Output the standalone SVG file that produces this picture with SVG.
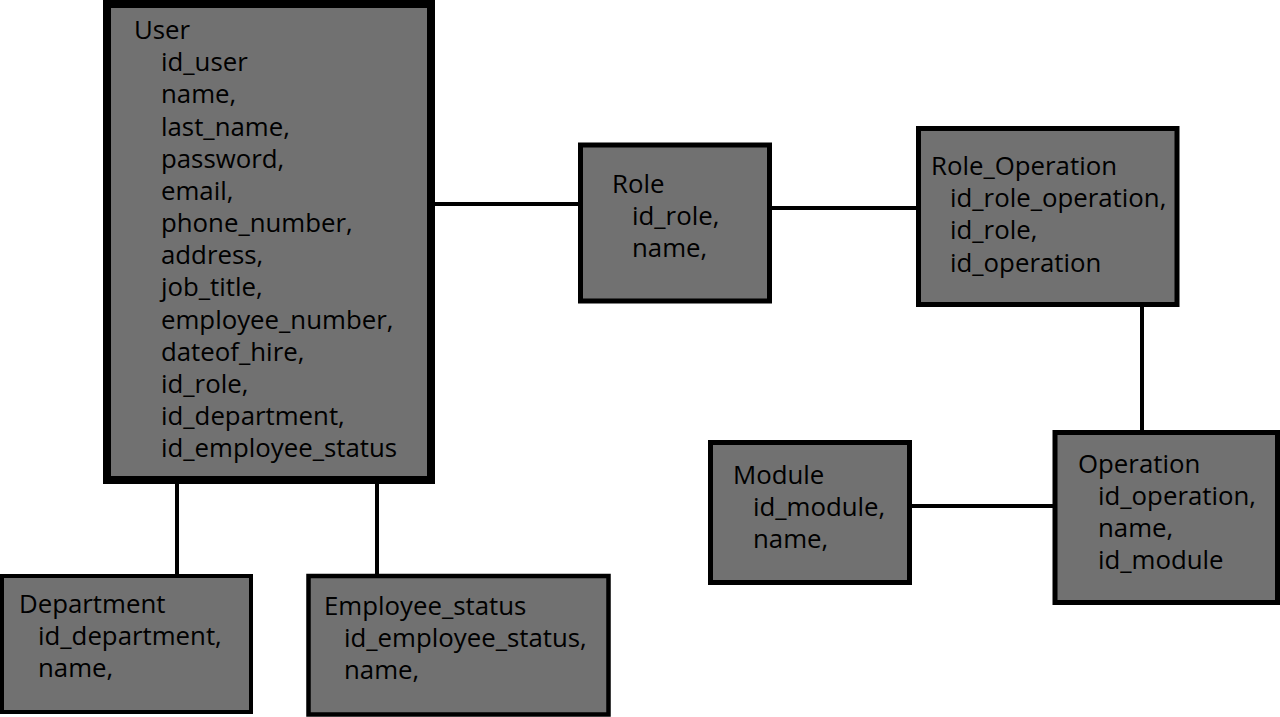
<svg xmlns="http://www.w3.org/2000/svg" width="1280" height="717" viewBox="0 0 1280 717">
<style>
.box{fill:#717171;stroke:#000;stroke-width:5}
.t{font-family:"Open Sans","Noto Sans","DejaVu Sans",sans-serif;font-size:25.8px;fill:#000}
.c{stroke:#000;stroke-width:4;fill:none}
</style>
<rect width="1280" height="717" fill="#fff"/>
<g id="connectors">
<line class="c" x1="435" y1="204" x2="578" y2="204"/>
<line class="c" x1="772" y1="208" x2="916" y2="208"/>
<line class="c" x1="1142" y1="307" x2="1142" y2="430"/>
<line class="c" x1="912" y1="506" x2="1053" y2="506"/>
<line class="c" x1="177" y1="484" x2="177" y2="574"/>
<line class="c" x1="377" y1="484" x2="377" y2="574"/>
</g>
<g id="user">
<rect class="box" x="107" y="4" width="324" height="476" style="stroke-width:8"/>
<text class="t" x="134" y="39">User</text>
<text class="t">
<tspan x="161" y="71">id_user</tspan>
<tspan x="161" y="103">name,</tspan>
<tspan x="161" y="135.5">last_name,</tspan>
<tspan x="161" y="167.5">password,</tspan>
<tspan x="161" y="199.5">email,</tspan>
<tspan x="161" y="232">phone_number,</tspan>
<tspan x="161" y="264">address,</tspan>
<tspan x="161" y="296">job_title,</tspan>
<tspan x="161" y="328.5">employee_number,</tspan>
<tspan x="161" y="360.5">dateof_hire,</tspan>
<tspan x="161" y="392.5">id_role,</tspan>
<tspan x="161" y="425">id_department,</tspan>
<tspan x="161" y="457">id_employee_status</tspan>
</text>
</g>
<g id="department">
<rect class="box" x="2" y="576" width="249" height="136" style="stroke-width:4"/>
<text class="t" x="19" y="613">Department</text>
<text class="t"><tspan x="38" y="645">id_department,</tspan><tspan x="38" y="677">name,</tspan></text>
</g>
<g id="employee_status">
<rect class="box" x="308.5" y="576" width="300" height="138.5" style="stroke-width:4.5"/>
<text class="t" x="324" y="615">Employee_status</text>
<text class="t"><tspan x="344" y="647">id_employee_status,</tspan><tspan x="344" y="679">name,</tspan></text>
</g>
<g id="role">
<rect class="box" x="580.5" y="145" width="189" height="156"/>
<text class="t" x="612" y="193">Role</text>
<text class="t"><tspan x="632" y="225">id_role,</tspan><tspan x="632" y="257">name,</tspan></text>
</g>
<g id="role_operation">
<rect class="box" x="918.5" y="128.5" width="258.5" height="176"/>
<text class="t" x="931" y="175">Role_Operation</text>
<text class="t"><tspan x="950" y="207">id_role_operation,</tspan><tspan x="950" y="239">id_role,</tspan><tspan x="950" y="272">id_operation</tspan></text>
</g>
<g id="module">
<rect class="box" x="710.5" y="442.5" width="199" height="140"/>
<text class="t" x="733" y="484">Module</text>
<text class="t"><tspan x="753" y="516">id_module,</tspan><tspan x="753" y="548">name,</tspan></text>
</g>
<g id="operation">
<rect class="box" x="1055" y="432.5" width="222.5" height="170"/>
<text class="t" x="1078" y="473">Operation</text>
<text class="t"><tspan x="1098" y="505">id_operation,</tspan><tspan x="1098" y="537">name,</tspan><tspan x="1098" y="569">id_module</tspan></text>
</g>
</svg>
